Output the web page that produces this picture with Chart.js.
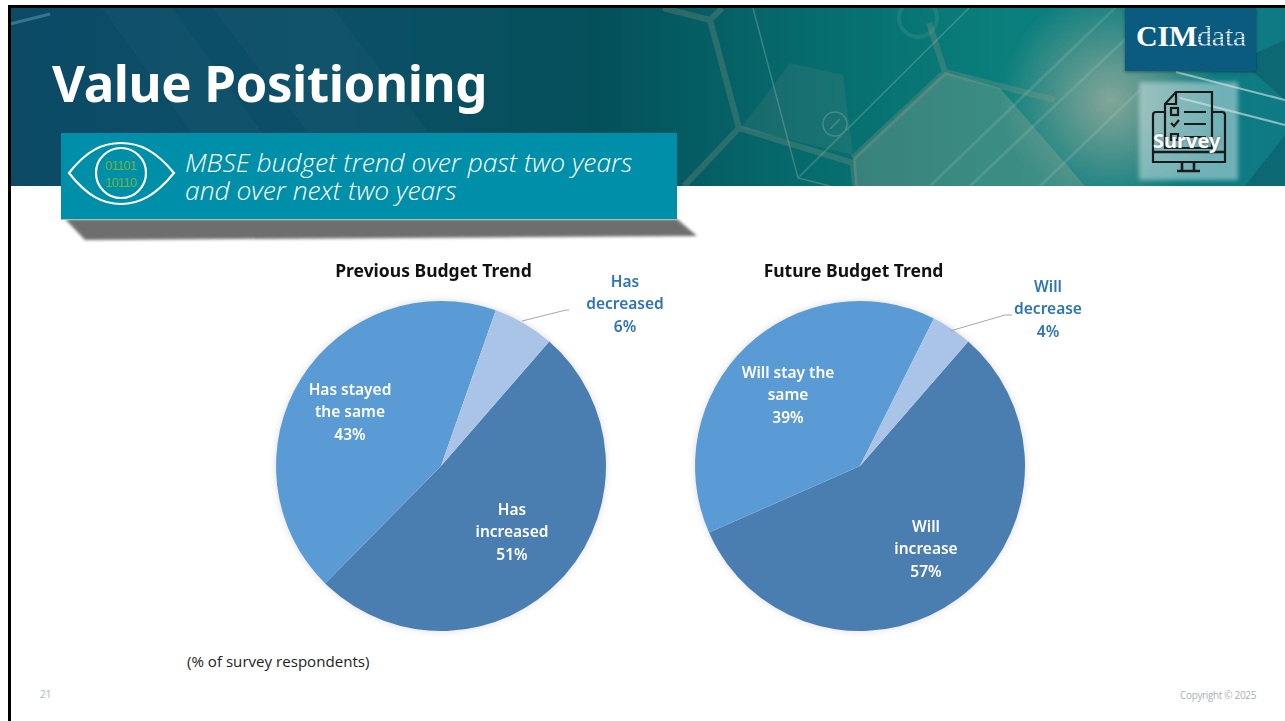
<!DOCTYPE html>
<html>
<head>
<meta charset="utf-8">
<script src="https://cdn.jsdelivr.net/npm/chart.js@4/dist/chart.umd.min.js"></script>
<style>
  html, body { margin: 0; padding: 0; background: #fff; }
  #slide { position: relative; width: 1285px; height: 721px; overflow: hidden; background: #fff; font-family: "Open Sans", sans-serif; }
  #banner { position: absolute; left: 8px; top: 5px; width: 1277px; height: 181px; }
  #edgeTop { position: absolute; left: 8px; top: 5px; width: 1277px; height: 2.5px; background: #000; }
  #edgeLeft { position: absolute; left: 8px; top: 5px; width: 2.5px; height: 716px; background: #000; }
  #title { position: absolute; left: 52px; top: 47px; color: #fff; font-size: 51px; font-weight: 700; font-family: "Noto Sans", sans-serif; letter-spacing: -0.42px; white-space: nowrap; }
  #logo { position: absolute; left: 1125px; top: 8px; width: 131px; height: 63px; background: #0b5a80; box-shadow: 0 1px 3px rgba(0,0,0,.4); }
  #logo span { position: absolute; left: 11px; top: 11px; font-family: "Liberation Serif", serif; font-size: 30px; color: #fff; white-space: nowrap; font-weight: 700; letter-spacing: -0.2px; }
  #logo i { font-style: normal; font-weight: 400; color: transparent;
    background: repeating-linear-gradient(180deg, #dfe9ef 0 2px, #7fa5ba 2px 3px); -webkit-background-clip: text; background-clip: text; }
  #surveyBox { position: absolute; left: 1139px; top: 82px; width: 99px; height: 98px; background: rgba(210,232,235,.5); filter: blur(2px); }
  #surveyIcon { position: absolute; left: 1150px; top: 90px; }
  #surveyText { position: absolute; left: 1153px; top: 127px; color: #fff; font-size: 20px; font-weight: 700; font-family: "Noto Sans", sans-serif; text-shadow: 0 0 2px #555; }
  #calloutShadow { position: absolute; left: 61px; top: 216px; }
  #callout { position: absolute; left: 61px; top: 133px; width: 616px; height: 86px; background: #008fa8; border-bottom: 1px solid #a9bcc0; }
  #calloutText { position: absolute; left: 185px; top: 148px; color: #fff; font-size: 26.4px; font-weight: 300; line-height: 28px; font-style: italic; font-family: "Open Sans", sans-serif; white-space: nowrap; }
  #eye { position: absolute; left: 67px; top: 140px; }
  #pctNote { position: absolute; left: 187px; top: 651px; font-size: 15.1px; color: #222; }
  #pageNo { position: absolute; left: 40px; top: 687px; font-size: 10px; color: #a9b6c0; }
  #copy { position: absolute; right: 29px; top: 688px; font-size: 10px; color: #a9b0b8; letter-spacing: -0.35px; }
  canvas { position: absolute; }
</style>
</head>
<body>
<div id="slide">
  <svg id="banner" viewBox="8 5 1277 181" width="1277" height="181">
    <defs>
      <linearGradient id="bannerFill" x1="0" x2="1" y1="0" y2="0">
        <stop offset="0" stop-color="#0c4a66"/>
        <stop offset="0.25" stop-color="#0c4f68"/>
        <stop offset="0.46" stop-color="#04505a"/>
        <stop offset="0.62" stop-color="#066a6c"/>
        <stop offset="0.78" stop-color="#0a7f7c"/>
        <stop offset="1" stop-color="#0f7a84"/>
      </linearGradient>
      <radialGradient id="glow" cx="1110" cy="100" r="110" gradientUnits="userSpaceOnUse">
        <stop offset="0" stop-color="#8aa898" stop-opacity="0.95"/>
        <stop offset="1" stop-color="#8aa898" stop-opacity="0"/>
      </radialGradient>
    </defs>
    <rect x="8" y="5" width="1277" height="181" fill="url(#bannerFill)"/>
    <g fill="#ffffff" opacity="0.02">
      <polygon points="100,5 170,5 300,186 230,186"/>
      <polygon points="210,5 330,5 470,186 350,186"/>
    </g>
    <line x1="10" y1="24" x2="50" y2="14" stroke="#6fa7b8" stroke-width="3" opacity="0.45"/>
    <g fill="#b9a98f" opacity="0.1">
      <polygon points="741,128 790,63 843,75 853,155"/>
    </g>
    <g fill="#b9b29a" opacity="0.28">
      <polygon points="855,186 853,158 945,72 1000,88 1085,186"/>
    </g>
    <rect x="1000" y="5" width="285" height="181" fill="url(#glow)"/>
    <g fill="none" stroke="#9a9a84" stroke-width="6" opacity="0.26">
      <polyline points="663,8 710,20 722,8"/>
      <polyline points="710,20 739,128 853,163 855,186"/>
      <polyline points="739,128 684,186"/>
      <polyline points="853,158 945,72 929,23"/>
      <polyline points="945,72 1055,100"/>
    </g>
    <g fill="none" stroke="#b5c2b0" stroke-width="1.5" opacity="0.3">
      <polyline points="753,8 798,178 830,186"/>
      <polyline points="798,178 969,8"/>
      <circle cx="835" cy="124" r="12"/>
      <polyline points="830,129 840,119"/>
      <circle cx="918" cy="18" r="19" stroke-width="4" opacity="0.4"/>
    </g>
    <g stroke="#d5e4d8" fill="none" opacity="0.13" stroke-width="3">
      <line x1="930" y1="186" x2="1115" y2="8"/>
      <line x1="970" y1="186" x2="1135" y2="30"/>
      <line x1="1040" y1="186" x2="1140" y2="90"/>
    </g>
    <g fill="none" stroke="#e8f3ee" stroke-width="2" opacity="0.55">
      <polyline points="1176,72 1285,100"/>
      <polyline points="1180,98 1285,125"/>
    </g>
    <g fill="#063f4c" opacity="0.3">
      <polygon points="1245,186 1285,135 1285,186"/>
      <polygon points="1240,60 1285,40 1285,100"/>
    </g>
  </svg>
  <div id="edgeTop"></div>
  <div id="edgeLeft"></div>
  <div id="title">Value Positioning</div>
  <div id="logo"><span>CIM<i>data</i></span></div>
  <div id="surveyBox"></div>
  <svg id="surveyIcon" width="78" height="84" fill="none" stroke="#1a1a1a" stroke-width="2.2">
    <path d="M15 22 H6 a3 3 0 0 0 -3 3 V72 H75 V25 a3 3 0 0 0 -3 -3 H62"/>
    <path d="M15 14 L26 2 H62 V58 H15 Z M15 14 H26 V2"/>
    <rect x="21" y="18" width="7" height="7"/>
    <path d="M34 22 H56 M21 33 l3 3 l5 -6 M34 34 H56 M21 44 H28 V50 H21 Z M34 47 H56"/>
    <path d="M3 62 H75 M32 72 V80 M44 72 V80 M27 81 H50" stroke-width="2.6"/>
  </svg>
  <div id="surveyText">Survey</div>
  <svg id="calloutShadow" width="650" height="34">
    <defs><filter id="sb"><feGaussianBlur stdDeviation="1.8"/></filter></defs>
    <polygon points="4,3 616,3 636,20 24,24" fill="#6e6e6e" filter="url(#sb)"/>
  </svg>
  <div id="callout"></div>
  <svg id="eye" width="110" height="68" fill="none" stroke="#fff" stroke-width="2.2">
    <path d="M2 33 C20 10 36 3 54 3 C72 3 88 10 107 33 C88 56 72 64 54 64 C36 64 20 56 2 33 Z"/>
    <circle cx="54" cy="33" r="25"/>
    <text x="38" y="30" textLength="32" fill="#6fb33f" stroke="none" font-size="13" font-family="Liberation Sans">01101</text>
    <text x="38" y="47" textLength="32" fill="#6fb33f" stroke="none" font-size="13" font-family="Liberation Sans">10110</text>
  </svg>
  <div id="calloutText">MBSE budget trend over past two years<br>and over next two years</div>
  <canvas id="prevChart" width="480" height="385" style="left:194px;top:255px;width:480px;height:385px"></canvas>
  <canvas id="nextChart" width="480" height="385" style="left:614px;top:255px;width:480px;height:385px"></canvas>
  <div id="pctNote">(% of survey respondents)</div>
  <div id="pageNo">21</div>
  <div id="copy">Copyright © 2025</div>
</div>
<script>
const prevCategories = ["Has increased", "Has stayed the same", "Has decreased"];
const prevValues = [51, 43, 6];
const prevLabelLines = [["Has", "increased"], ["Has stayed", "the same"], ["Has", "decreased"]];

const nextCategories = ["Will increase", "Will stay the same", "Will decrease"];
const nextValues = [57, 39, 4];
const nextLabelLines = [["Will", "increase"], ["Will stay the", "same"], ["Will", "decrease"]];

const sliceColors = ["#4a7eb0", "#5b9bd5", "#a9c4e6"];

// draws the soft halo, slice labels and leader line
const sliceLabels = {
  id: "sliceLabels",
  afterLayout(chart, args, opts) {
    // title sits left of the pie centre in the slide
    chart.titleBlock.left -= opts.titleShift * 2;
  },
  beforeDatasetsDraw(chart) {
    const arc = chart.getDatasetMeta(0).data[0];
    const ctx = chart.ctx;
    ctx.save();
    ctx.shadowColor = "rgba(0,0,0,0.18)";
    ctx.shadowBlur = 8;
    ctx.fillStyle = "#fff";
    ctx.beginPath();
    ctx.arc(arc.x, arc.y, arc.outerRadius - 1, 0, Math.PI * 2);
    ctx.fill();
    ctx.restore();
  },
  afterDatasetsDraw(chart, args, opts) {
    const arc = chart.getDatasetMeta(0).data[0];
    const ctx = chart.ctx;
    const values = chart.data.datasets[0].data;

    ctx.save();
    ctx.strokeStyle = "#a6a6a6";
    ctx.lineWidth = 1;
    ctx.beginPath();
    opts.leader.forEach((p, i) => {
      if (i === 0) ctx.moveTo(arc.x + p[0], arc.y + p[1]);
      else ctx.lineTo(arc.x + p[0], arc.y + p[1]);
    });
    ctx.stroke();

    ctx.font = "600 15.5px 'Noto Sans'";
    ctx.textAlign = "center";
    ctx.textBaseline = "middle";
    opts.lines.forEach((lines, i) => {
      const all = [...lines, `${values[i]}%`];
      ctx.fillStyle = i === 2 ? "#2e75b6" : "#fff";
      all.forEach((text, n) => {
        const y = arc.y + opts.spots[i][1] + (n - 1) * 22.5;
        ctx.fillText(text, arc.x + opts.spots[i][0], y);
      });
    });
    ctx.restore();
  }
};

function drawPie(canvasId, title, categories, values, labelLines, spots, leader, padLeft, padRight, titleShift) {
  return new Chart(document.getElementById(canvasId), {
    type: "pie",
    data: {
      labels: categories,
      datasets: [{ data: values, backgroundColor: sliceColors, borderWidth: 0 }]
    },
    options: {
      responsive: false,
      animation: false,
      rotation: 41,
      layout: { padding: { left: padLeft, right: padRight, top: 0, bottom: 9 } },
      plugins: {
        legend: { display: false },
        tooltip: { enabled: false },
        title: {
          display: true,
          text: title,
          color: "#111",
          font: { family: "'Noto Sans'", size: 17.5, weight: "700", lineHeight: 1.2 },
          padding: { top: 7, bottom: 18 }
        },
        sliceLabels: { lines: labelLines, spots: spots, leader: leader, titleShift: titleShift }
      }
    },
    plugins: [sliceLabels]
  });
}

drawPie("prevChart", "Previous Budget Trend", prevCategories, prevValues, prevLabelLines,
  [[71, 67], [-91, -53], [184, -161]],
  [[81, -145], [125, -156], [128, -156]], 82, 68, 7.5);

drawPie("nextChart", "Future Budget Trend", nextCategories, nextValues, nextLabelLines,
  [[66, 84], [-72, -70], [188, -156]],
  [[90, -135], [145, -151], [152, -151]], 81, 69, 6.5);
</script>
</body>
</html>
